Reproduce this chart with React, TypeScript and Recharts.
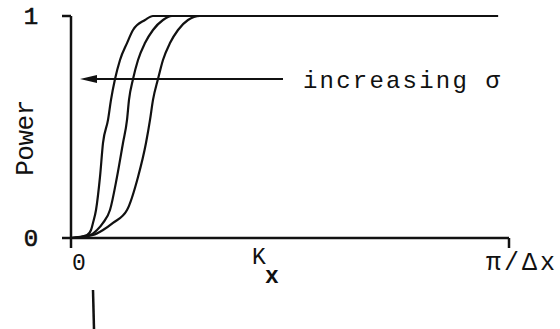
import { LineChart, Line, XAxis, YAxis, ReferenceLine } from "recharts";

// K_x in units where pi/dx = 100
const powerLevels = [0, 0.0135, 0.036, 0.068, 0.126, 0.275, 0.428, 0.532, 0.622, 0.716, 0.802, 0.878, 0.937, 0.982, 1, 1];
const kxNarrow = [0, 3.65, 4.57, 5.02, 5.71, 6.62, 7.31, 8.45, 9.13, 10.05, 11.19, 12.79, 14.16, 16.89, 18.72, 97.5];
const kxMid = [0, 4.34, 5.94, 7.31, 8.9, 10.5, 11.87, 12.79, 13.24, 14.16, 15.3, 16.89, 18.72, 21.0, 23.06, 97.5];
const kxWide = [0, 5.02, 7.31, 9.59, 12.79, 15.3, 17.12, 18.04, 18.72, 19.86, 21.0, 22.6, 24.43, 26.71, 29.45, 97.5];

const xTicks = [0, 100];
const yTicks = [0, 1];
const xTickLabels: Record<number, string> = { 0: "0", 100: "π/Δx" };

const arrowLevel = 0.716;
const arrowFrom = 48.4;
const arrowTo = 2.05;

const INK = "#111";
const MONO = "'Liberation Mono', 'DejaVu Sans Mono', monospace";

const toSeries = (kx: number[]) => kx.map((k, i) => ({ k, p: powerLevels[i] }));

const XTick = (props: any) => {
  const { x, y, payload } = props;
  const label = xTickLabels[payload.value];
  const isZero = payload.value === 0;
  return (
    <text
      x={x + (isZero ? 8 : 13)}
      y={y + 20}
      textAnchor="middle"
      fontFamily={MONO}
      fontSize={isZero ? 23 : 25}
      letterSpacing={isZero ? 0 : 3}
      fill={INK}
    >
      {label}
    </text>
  );
};

const YTick = (props: any) => {
  const { y, payload } = props;
  return (
    <text x={31} y={y + 8} textAnchor="middle" fontFamily={MONO} fontSize={24} fill={INK} stroke={INK} strokeWidth={0.6}>
      {payload.value}
    </text>
  );
};

const KxLabel = (props: any) => {
  const { viewBox } = props;
  const cx = viewBox.x + viewBox.width / 2;
  const y = viewBox.y;
  return (
    <g>
      <text x={cx - 38} y={y + 26} fontFamily={MONO} fontSize={23} fill={INK}>K</text>
      <text x={cx - 25} y={y + 45} fontFamily={MONO} fontSize={23} fontWeight={700} fill={INK}>x</text>
      <line x1={viewBox.x + 22} y1={y + 52} x2={viewBox.x + 23} y2={y + 91} stroke={INK} strokeWidth={2.5} />
    </g>
  );
};

const PowerLabel = () => (
  <text
    x={33}
    y={138}
    transform="rotate(-90 33 138)"
    textAnchor="middle"
    fontFamily={MONO}
    fontSize={26}
    letterSpacing={-0.5}
    fill={INK}
  >
    Power
  </text>
);

const ArrowShape = (props: any) => {
  const { x1, y1, x2, y2 } = props;
  return (
    <g>
      <line x1={x1} y1={y1} x2={x2 + 8} y2={y2} stroke={INK} strokeWidth={2} />
      <polygon points={`${x2},${y2} ${x2 + 17},${y2 - 4} ${x2 + 17},${y2 + 4}`} fill={INK} />
      <text x={x1 + 20} y={y1 + 9} fontFamily={MONO} fontSize={24} letterSpacing={2.2} fill={INK}>
        increasing σ
      </text>
    </g>
  );
};

export default function App() {
  return (
    <div style={{ position: "absolute", left: 0, top: 0, background: "#fff" }}>
      <LineChart width={560} height={329} margin={{ top: 16, right: 51, bottom: 51, left: 31 }}>
        <XAxis
          type="number"
          dataKey="k"
          domain={[0, 100]}
          ticks={xTicks}
          allowDataOverflow
          axisLine={{ stroke: INK, strokeWidth: 2.5 }}
          tickLine={{ stroke: INK, strokeWidth: 2.5 }}
          tickSize={10}
          tick={<XTick />}
          height={40}
          label={<KxLabel />}
        />
        <YAxis
          type="number"
          domain={[0, 1]}
          ticks={yTicks}
          axisLine={{ stroke: INK, strokeWidth: 2.5 }}
          tickLine={{ stroke: INK, strokeWidth: 2.5 }}
          tickSize={9}
          tick={<YTick />}
          width={40}
          label={<PowerLabel />}
        />
        <ReferenceLine
          segment={[{ x: arrowFrom, y: arrowLevel }, { x: arrowTo, y: arrowLevel }]}
          shape={<ArrowShape />}
        />
        <Line data={toSeries(kxNarrow)} dataKey="p" type="monotone" stroke={INK} strokeWidth={2.2} dot={false} isAnimationActive={false} />
        <Line data={toSeries(kxMid)} dataKey="p" type="monotone" stroke={INK} strokeWidth={2.2} dot={false} isAnimationActive={false} />
        <Line data={toSeries(kxWide)} dataKey="p" type="monotone" stroke={INK} strokeWidth={2.2} dot={false} isAnimationActive={false} />
      </LineChart>
    </div>
  );
}
